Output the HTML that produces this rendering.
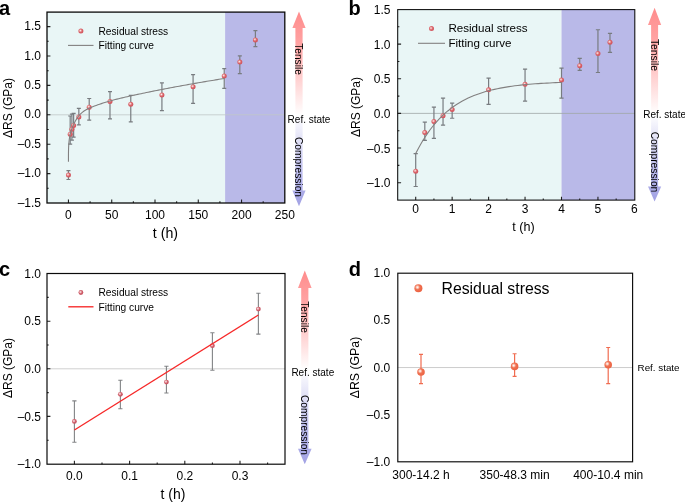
<!DOCTYPE html>
<html lang="en"><head><meta charset="utf-8"><title>Residual stress evolution</title>
<style>html,body{margin:0;padding:0;background:#fff}body{width:685px;height:503px;overflow:hidden}svg{display:block}text{font-family:'Liberation Sans', Arial, Helvetica, sans-serif;fill:#000}</style>
</head><body>
<svg width="685" height="503" viewBox="0 0 685 503">
<defs>
<radialGradient id="mA" cx="0.4" cy="0.4" r="0.7"><stop offset="0" stop-color="#fff2f2"/><stop offset="0.2" stop-color="#eeb2b2"/><stop offset="0.5" stop-color="#da6268"/><stop offset="1" stop-color="#cc4e58"/></radialGradient>
<radialGradient id="mC" cx="0.4" cy="0.4" r="0.7"><stop offset="0" stop-color="#fff4f4"/><stop offset="0.2" stop-color="#ecb8bc"/><stop offset="0.5" stop-color="#d05e6a"/><stop offset="1" stop-color="#c04c5a"/></radialGradient>
<radialGradient id="mD" cx="0.38" cy="0.38" r="0.72"><stop offset="0" stop-color="#ffffff"/><stop offset="0.16" stop-color="#fbd4c8"/><stop offset="0.42" stop-color="#f07252"/><stop offset="1" stop-color="#ea5e3e"/></radialGradient>
<linearGradient id="gua" gradientUnits="userSpaceOnUse" x1="0" y1="11.4" x2="0" y2="115"><stop offset="0" stop-color="#ff8c8c"/><stop offset="0.3" stop-color="#ffa2a2"/><stop offset="1" stop-color="#ffffff"/></linearGradient>
<linearGradient id="gda" gradientUnits="userSpaceOnUse" x1="0" y1="115" x2="0" y2="206.3"><stop offset="0" stop-color="#ffffff"/><stop offset="0.7" stop-color="#b4b4ea"/><stop offset="1" stop-color="#a2a2e4"/></linearGradient>
<linearGradient id="gub" gradientUnits="userSpaceOnUse" x1="0" y1="7.7" x2="0" y2="114"><stop offset="0" stop-color="#ff8c8c"/><stop offset="0.3" stop-color="#ffa2a2"/><stop offset="1" stop-color="#ffffff"/></linearGradient>
<linearGradient id="gdb" gradientUnits="userSpaceOnUse" x1="0" y1="114" x2="0" y2="201.4"><stop offset="0" stop-color="#ffffff"/><stop offset="0.7" stop-color="#b4b4ea"/><stop offset="1" stop-color="#a2a2e4"/></linearGradient>
<linearGradient id="guc" gradientUnits="userSpaceOnUse" x1="0" y1="270.4" x2="0" y2="369"><stop offset="0" stop-color="#ff8c8c"/><stop offset="0.3" stop-color="#ffa2a2"/><stop offset="1" stop-color="#ffffff"/></linearGradient>
<linearGradient id="gdc" gradientUnits="userSpaceOnUse" x1="0" y1="369" x2="0" y2="464.2"><stop offset="0" stop-color="#ffffff"/><stop offset="0.7" stop-color="#b4b4ea"/><stop offset="1" stop-color="#a2a2e4"/></linearGradient>
</defs>
<rect width="685" height="503" fill="#fff"/>
<g>
<rect x="47" y="12.1" width="178.11" height="190.9" fill="#e9f6f6"/>
<rect x="225.11" y="12.1" width="59.69" height="190.9" fill="#b9b9e8"/>
<line x1="47" y1="114.8" x2="284.8" y2="114.8" stroke="#c0c8c8" stroke-width="0.8"/>
<path d="M47 173.6h3.4M47 144.2h3.4M47 114.8h3.4M47 85.4h3.4M47 56h3.4M47 26.6h3.4M47 188.3h1.7M47 158.9h1.7M47 129.5h1.7M47 100.1h1.7M47 70.7h1.7M47 41.3h1.7M68.45 203v-3.4M111.73 203v-3.4M155 203v-3.4M198.28 203v-3.4M241.55 203v-3.4M90.09 203v-1.7M133.36 203v-1.7M176.64 203v-1.7M219.91 203v-1.7M263.19 203v-1.7" stroke="#222" stroke-width="1.1" fill="none"/>
<path d="M68.45 179.48V170.66M66.45 179.48h4.0M66.45 170.66h4.0M70.18 144.2V115.98M68.18 144.2h4.0M68.18 115.98h4.0M71.91 140.08V114.21M69.91 140.08h4.0M69.91 114.21h4.0M73.64 137.14V113.33M71.64 137.14h4.0M71.64 113.33h4.0M78.84 124.8V108.33M76.84 124.8h4.0M76.84 108.33h4.0M89.22 120.09V98.51M87.22 120.09h4.0M87.22 98.51h4.0M109.99 118.92V91.57M107.99 118.92h4.0M107.99 91.57h4.0M130.77 121.86V95.4M128.77 121.86h4.0M128.77 95.4h4.0M161.92 110.68V82.87M159.92 110.68h4.0M159.92 82.87h4.0M193.08 103.33V74.58M191.08 103.33h4.0M191.08 74.58h4.0M224.24 88.34V68.58M222.24 88.34h4.0M222.24 68.58h4.0M239.82 73.64V55.82M237.82 73.64h4.0M237.82 55.82h4.0M255.4 46.71V30.72M253.4 46.71h4.0M253.4 30.72h4.0" stroke="#787c80" stroke-width="1.2" fill="none"/>
<circle cx="68.45" cy="175.07" r="2.5" fill="url(#mA)"/>
<circle cx="70.18" cy="134.2" r="2.5" fill="url(#mA)"/>
<circle cx="71.91" cy="129.21" r="2.5" fill="url(#mA)"/>
<circle cx="73.64" cy="125.38" r="2.5" fill="url(#mA)"/>
<circle cx="78.84" cy="116.98" r="2.5" fill="url(#mA)"/>
<circle cx="89.22" cy="107.16" r="2.5" fill="url(#mA)"/>
<circle cx="109.99" cy="101.51" r="2.5" fill="url(#mA)"/>
<circle cx="130.77" cy="104.22" r="2.5" fill="url(#mA)"/>
<circle cx="161.92" cy="94.98" r="2.5" fill="url(#mA)"/>
<circle cx="193.08" cy="86.69" r="2.5" fill="url(#mA)"/>
<circle cx="224.24" cy="75.99" r="2.5" fill="url(#mA)"/>
<circle cx="239.82" cy="62.12" r="2.5" fill="url(#mA)"/>
<circle cx="255.4" cy="39.89" r="2.5" fill="url(#mA)"/>
<path d="M68.45 161.84 L68.46 155.42 L68.48 153.16 L68.5 151.33 L68.54 149.75 L68.62 147.2 L68.75 144.76 L68.88 142.99 L69.1 140.75 L69.32 139 L69.75 136.28 L70.18 134.17 L71.05 130.95 L71.91 128.48 L72.78 126.38 L73.64 124.47 L75.37 121.02 L77.11 118.11 L78.84 115.74 L80.57 113.86 L82.3 112.33 L84.03 111.05 L85.76 109.95 L87.49 109 L89.22 108.16 L90.95 107.39 L92.68 106.69 L94.42 106.04 L96.15 105.41 L97.88 104.81 L99.61 104.22 L101.34 103.63 L103.07 103.06 L104.8 102.51 L106.53 101.97 L108.26 101.45 L109.99 100.94 L111.73 100.46 L113.46 100 L115.19 99.55 L116.92 99.12 L118.65 98.69 L120.38 98.28 L122.11 97.87 L123.84 97.47 L125.57 97.08 L127.3 96.69 L129.03 96.31 L130.77 95.92 L132.5 95.54 L134.23 95.16 L135.96 94.78 L137.69 94.41 L139.42 94.04 L141.15 93.67 L142.88 93.3 L144.61 92.93 L146.35 92.57 L148.08 92.21 L149.81 91.86 L151.54 91.5 L153.27 91.15 L155 90.8 L156.73 90.46 L158.46 90.11 L160.19 89.77 L161.92 89.43 L163.66 89.1 L165.39 88.77 L167.12 88.44 L168.85 88.11 L170.58 87.78 L172.31 87.46 L174.04 87.14 L175.77 86.82 L177.5 86.5 L179.23 86.18 L180.97 85.87 L182.7 85.56 L184.43 85.25 L186.16 84.94 L187.89 84.63 L189.62 84.32 L191.35 84.01 L193.08 83.71 L194.81 83.41 L196.54 83.1 L198.28 82.8 L200.01 82.5 L201.74 82.21 L203.47 81.91 L205.2 81.61 L206.93 81.32 L208.66 81.03 L210.39 80.74 L212.12 80.45 L213.85 80.17 L215.59 79.88 L217.32 79.6 L219.05 79.32 L220.78 79.05 L222.51 78.77 L224.24 78.5" stroke="#828080" stroke-width="1.1" fill="none" stroke-linejoin="round"/>
<rect x="47" y="12.1" width="237.8" height="190.9" fill="none" stroke="#0a0a0a" stroke-width="1.3"/>
<text x="41" y="206.5" font-size="12" text-anchor="end">–1.5</text>
<text x="41" y="177.1" font-size="12" text-anchor="end">–1.0</text>
<text x="41" y="147.7" font-size="12" text-anchor="end">–0.5</text>
<text x="41" y="118.3" font-size="12" text-anchor="end">0.0</text>
<text x="41" y="88.9" font-size="12" text-anchor="end">0.5</text>
<text x="41" y="59.5" font-size="12" text-anchor="end">1.0</text>
<text x="41" y="30.1" font-size="12" text-anchor="end">1.5</text>
<text x="68.45" y="218.8" font-size="12" text-anchor="middle">0</text>
<text x="111.73" y="218.8" font-size="12" text-anchor="middle">50</text>
<text x="155" y="218.8" font-size="12" text-anchor="middle">100</text>
<text x="198.28" y="218.8" font-size="12" text-anchor="middle">150</text>
<text x="241.55" y="218.8" font-size="12" text-anchor="middle">200</text>
<text x="284.82" y="218.8" font-size="12" text-anchor="middle">250</text>
<text x="165.4" y="237.6" font-size="14.2" text-anchor="middle">t (h)</text>
<text transform="translate(12 108) rotate(-90)" font-size="12" text-anchor="middle">ΔRS (GPa)</text>
<text x="-0.9" y="14.6" font-size="20" font-weight="bold">a</text>
<circle cx="80.9" cy="31.1" r="2.5" fill="url(#mA)"/>
<text x="98.5" y="35" font-size="10.2">Residual stress</text>
<line x1="68" y1="45.4" x2="93.5" y2="45.4" stroke="#828080" stroke-width="1.1"/>
<text x="98.5" y="49.3" font-size="10.2">Fitting curve</text>
<path d="M299 11.4L305.6 28H302.6V115H295.4V28H292.4Z" fill="url(#gua)"/>
<path d="M299 206.3L305.6 190.5H302.6V115H295.4V190.5H292.4Z" fill="url(#gda)"/>
<text transform="translate(295.4 59) rotate(90)" font-size="10.2" text-anchor="middle">Tensile</text>
<text transform="translate(295.4 167) rotate(90)" font-size="10.2" text-anchor="middle">Compression</text>
<text x="287.6" y="122.6" font-size="10">Ref. state</text>
</g>
<g>
<rect x="397.7" y="9.6" width="163.8" height="190.5" fill="#e9f6f6"/>
<rect x="561.5" y="9.6" width="73.3" height="190.5" fill="#b9b9e8"/>
<line x1="397.7" y1="113.4" x2="634.8" y2="113.4" stroke="#a0a6a6" stroke-width="0.8"/>
<path d="M397.7 182.7h3.4M397.7 148.05h3.4M397.7 113.4h3.4M397.7 78.75h3.4M397.7 44.1h3.4M397.7 165.38h1.7M397.7 130.72h1.7M397.7 96.08h1.7M397.7 61.43h1.7M397.7 26.78h1.7M415.7 200.1v-3.4M452.15 200.1v-3.4M488.6 200.1v-3.4M525.05 200.1v-3.4M561.5 200.1v-3.4M597.95 200.1v-3.4M433.93 200.1v-1.7M470.38 200.1v-1.7M506.82 200.1v-1.7M543.27 200.1v-1.7M579.73 200.1v-1.7M616.17 200.1v-1.7" stroke="#222" stroke-width="1.1" fill="none"/>
<path d="M415.7 186.51V153.59M413.6 186.51h4.2M413.6 153.59h4.2M424.81 140.29V122.2M422.71 140.29h4.2M422.71 122.2h4.2M433.93 138.35V107.16M431.82 138.35h4.2M431.82 107.16h4.2M443.04 125.18V98.15M440.94 125.18h4.2M440.94 98.15h4.2M452.15 118.25V103.14M450.05 118.25h4.2M450.05 103.14h4.2M488.6 104.39V78.06M486.5 104.39h4.2M486.5 78.06h4.2M525.05 101.13V69.19M522.95 101.13h4.2M522.95 69.19h4.2M561.5 98.15V68.22M559.4 98.15h4.2M559.4 68.22h4.2M579.73 70.43V58.38M577.62 70.43h4.2M577.62 58.38h4.2M597.95 72.51V29.75M595.85 72.51h4.2M595.85 29.75h4.2M609.98 52.42V33.29M607.88 52.42h4.2M607.88 33.29h4.2" stroke="#787c80" stroke-width="1.2" fill="none"/>
<circle cx="415.7" cy="171.2" r="2.5" fill="url(#mA)"/>
<circle cx="424.81" cy="132.53" r="2.5" fill="url(#mA)"/>
<circle cx="433.93" cy="121.51" r="2.5" fill="url(#mA)"/>
<circle cx="443.04" cy="115.69" r="2.5" fill="url(#mA)"/>
<circle cx="452.15" cy="109.38" r="2.5" fill="url(#mA)"/>
<circle cx="488.6" cy="89.84" r="2.5" fill="url(#mA)"/>
<circle cx="525.05" cy="84.29" r="2.5" fill="url(#mA)"/>
<circle cx="561.5" cy="80" r="2.5" fill="url(#mA)"/>
<circle cx="579.73" cy="65.72" r="2.5" fill="url(#mA)"/>
<circle cx="597.95" cy="53.59" r="2.5" fill="url(#mA)"/>
<circle cx="609.98" cy="42.3" r="2.5" fill="url(#mA)"/>
<path d="M415.7 153.59 L418.62 147.97 L421.53 142.79 L424.45 138 L427.36 133.59 L430.28 129.52 L433.2 125.77 L436.11 122.31 L439.03 119.12 L441.94 116.17 L444.86 113.45 L447.78 110.95 L450.69 108.64 L453.61 106.5 L456.52 104.54 L459.44 102.72 L462.36 101.05 L465.27 99.51 L468.19 98.09 L471.1 96.77 L474.02 95.56 L476.94 94.45 L479.85 93.42 L482.77 92.47 L485.68 91.59 L488.6 90.78 L491.52 90.03 L494.43 89.35 L497.35 88.71 L500.26 88.13 L503.18 87.59 L506.1 87.09 L509.01 86.63 L511.93 86.21 L514.84 85.82 L517.76 85.46 L520.68 85.12 L523.59 84.82 L526.51 84.53 L529.42 84.27 L532.34 84.03 L535.26 83.81 L538.17 83.61 L541.09 83.42 L544 83.24 L546.92 83.08 L549.84 82.94 L552.75 82.8 L555.67 82.67 L558.58 82.56 L561.5 82.45" stroke="#828080" stroke-width="1.1" fill="none" stroke-linejoin="round"/>
<rect x="397.7" y="9.6" width="237.1" height="190.5" fill="none" stroke="#0a0a0a" stroke-width="1.05"/>
<text x="390.4" y="187.2" font-size="12" text-anchor="end">–1.0</text>
<text x="390.4" y="152.55" font-size="12" text-anchor="end">–0.5</text>
<text x="390.4" y="117.9" font-size="12" text-anchor="end">0.0</text>
<text x="390.4" y="83.25" font-size="12" text-anchor="end">0.5</text>
<text x="390.4" y="48.6" font-size="12" text-anchor="end">1.0</text>
<text x="390.4" y="13.95" font-size="12" text-anchor="end">1.5</text>
<text x="415.7" y="213.4" font-size="12" text-anchor="middle">0</text>
<text x="452.15" y="213.4" font-size="12" text-anchor="middle">1</text>
<text x="488.6" y="213.4" font-size="12" text-anchor="middle">2</text>
<text x="525.05" y="213.4" font-size="12" text-anchor="middle">3</text>
<text x="561.5" y="213.4" font-size="12" text-anchor="middle">4</text>
<text x="597.95" y="213.4" font-size="12" text-anchor="middle">5</text>
<text x="634.4" y="213.4" font-size="12" text-anchor="middle">6</text>
<text x="523.4" y="231" font-size="12.6" text-anchor="middle">t (h)</text>
<text transform="translate(359.7 107) rotate(-90)" font-size="12" text-anchor="middle">ΔRS (GPa)</text>
<text x="348.6" y="14.7" font-size="20" font-weight="bold">b</text>
<circle cx="431.5" cy="28.6" r="2.5" fill="url(#mA)"/>
<text x="448.4" y="32" font-size="11.6">Residual stress</text>
<line x1="418" y1="43.3" x2="445" y2="43.3" stroke="#828080" stroke-width="1.1"/>
<text x="448.4" y="46.9" font-size="11.6">Fitting curve</text>
<path d="M654.6 7.7L661.2 24.9H658.1V114H651.1V24.9H648Z" fill="url(#gub)"/>
<path d="M654.6 201.4L661.2 186.6H658.1V114H651.1V186.6H648Z" fill="url(#gdb)"/>
<text transform="translate(650.8 55) rotate(90)" font-size="10.3" text-anchor="middle">Tensile</text>
<text transform="translate(650.8 162) rotate(90)" font-size="10.3" text-anchor="middle">Compression</text>
<text x="643.2" y="118.3" font-size="10">Ref. state</text>
</g>
<g>
<line x1="47" y1="368.8" x2="285" y2="368.8" stroke="#d0d0d0" stroke-width="1.0"/>
<path d="M47 416.4h3.4M47 368.8h3.4M47 321.2h3.4M47 440.2h1.7M47 392.6h1.7M47 345h1.7M47 297.4h1.7M74.4 464.2v-3.4M129.6 464.2v-3.4M184.8 464.2v-3.4M240 464.2v-3.4M102 464.2v-1.7M157.2 464.2v-1.7M212.4 464.2v-1.7M267.6 464.2v-1.7" stroke="#222" stroke-width="1.1" fill="none"/>
<path d="M74.4 442.29V400.88M72.3 442.29h4.2M72.3 400.88h4.2M120.38 408.78V380.22M118.28 408.78h4.2M118.28 380.22h4.2M166.42 392.98V366.32M164.32 392.98h4.2M164.32 366.32h4.2M212.4 370.23V332.72M210.3 370.23h4.2M210.3 332.72h4.2M258.38 334.15V293.31M256.28 334.15h4.2M256.28 293.31h4.2" stroke="#828486" stroke-width="1.1" fill="none"/>
<circle cx="74.4" cy="421.45" r="2.4" fill="url(#mC)"/>
<circle cx="120.38" cy="394.31" r="2.4" fill="url(#mC)"/>
<circle cx="166.42" cy="382.03" r="2.4" fill="url(#mC)"/>
<circle cx="212.4" cy="345.67" r="2.4" fill="url(#mC)"/>
<circle cx="258.38" cy="309.11" r="2.4" fill="url(#mC)"/>
<path d="M74.4 430.01 L258.38 315.01" stroke="#f62828" stroke-width="1.35" fill="none" stroke-linejoin="round"/>
<rect x="47" y="273.5" width="238" height="190.7" fill="none" stroke="#0a0a0a" stroke-width="1.2"/>
<text x="41" y="468.2" font-size="12" text-anchor="end">–1.0</text>
<text x="41" y="420.6" font-size="12" text-anchor="end">–0.5</text>
<text x="41" y="373" font-size="12" text-anchor="end">0.0</text>
<text x="41" y="325.4" font-size="12" text-anchor="end">0.5</text>
<text x="41" y="277.8" font-size="12" text-anchor="end">1.0</text>
<text x="74.4" y="479.6" font-size="12" text-anchor="middle">0.0</text>
<text x="129.6" y="479.6" font-size="12" text-anchor="middle">0.1</text>
<text x="184.8" y="479.6" font-size="12" text-anchor="middle">0.2</text>
<text x="240" y="479.6" font-size="12" text-anchor="middle">0.3</text>
<text x="173" y="499" font-size="14" text-anchor="middle">t (h)</text>
<text transform="translate(12 368) rotate(-90)" font-size="12" text-anchor="middle">ΔRS (GPa)</text>
<text x="-0.9" y="275.9" font-size="20" font-weight="bold">c</text>
<circle cx="80.9" cy="292.5" r="2.4" fill="url(#mC)"/>
<text x="98.5" y="296.2" font-size="10.2">Residual stress</text>
<line x1="68.3" y1="306.8" x2="93.5" y2="306.8" stroke="#f62828" stroke-width="1.35"/>
<text x="98.5" y="310.5" font-size="10.2">Fitting curve</text>
<path d="M304.8 270.4L311.6 288H308.4V369H301.2V288H298Z" fill="url(#guc)"/>
<path d="M304.8 464.2L311.6 448.8H308.4V369H301.2V448.8H298Z" fill="url(#gdc)"/>
<text transform="translate(301.2 317) rotate(90)" font-size="10.2" text-anchor="middle">Tensile</text>
<text transform="translate(301.2 425) rotate(90)" font-size="10.2" text-anchor="middle">Compression</text>
<text x="291.4" y="376.1" font-size="10">Ref. state</text>
</g>
<g>
<line x1="397.8" y1="367.55" x2="632.6" y2="367.55" stroke="#c6c6c6" stroke-width="0.9"/>
<path d="M421 383.62V354.41M419 383.62h4.0M419 354.41h4.0M514.6 376.34V353.75M512.6 376.34h4.0M512.6 353.75h4.0M608.2 383.62V347.52M606.2 383.62h4.0M606.2 347.52h4.0" stroke="#f06c50" stroke-width="1.2" fill="none"/>
<circle cx="421" cy="371.99" r="3.8" fill="url(#mD)"/>
<circle cx="514.6" cy="366.42" r="3.8" fill="url(#mD)"/>
<circle cx="608.2" cy="364.72" r="3.8" fill="url(#mD)"/>
<rect x="397.8" y="273.2" width="234.8" height="188.6" fill="none" stroke="#0a0a0a" stroke-width="1.15"/>
<text x="390.2" y="466.05" font-size="12" text-anchor="end">–1.0</text>
<text x="390.2" y="418.8" font-size="12" text-anchor="end">–0.5</text>
<text x="390.2" y="371.55" font-size="12" text-anchor="end">0.0</text>
<text x="390.2" y="324.3" font-size="12" text-anchor="end">0.5</text>
<text x="390.2" y="277.05" font-size="12" text-anchor="end">1.0</text>
<text x="421" y="479" font-size="12" text-anchor="middle">300-14.2 h</text>
<text x="514.6" y="479" font-size="12" text-anchor="middle">350-48.3 min</text>
<text x="608.2" y="479" font-size="12" text-anchor="middle">400-10.4 min</text>
<text transform="translate(359.2 367.5) rotate(-90)" font-size="12.3" text-anchor="middle">ΔRS (GPa)</text>
<text x="348.8" y="275.6" font-size="20" font-weight="bold">d</text>
<circle cx="418.4" cy="288.2" r="4" fill="url(#mD)"/>
<text x="441.5" y="293.7" font-size="15.8">Residual stress</text>
<text x="637.6" y="371.2" font-size="9.8">Ref. state</text>
</g>
</svg></body></html>
